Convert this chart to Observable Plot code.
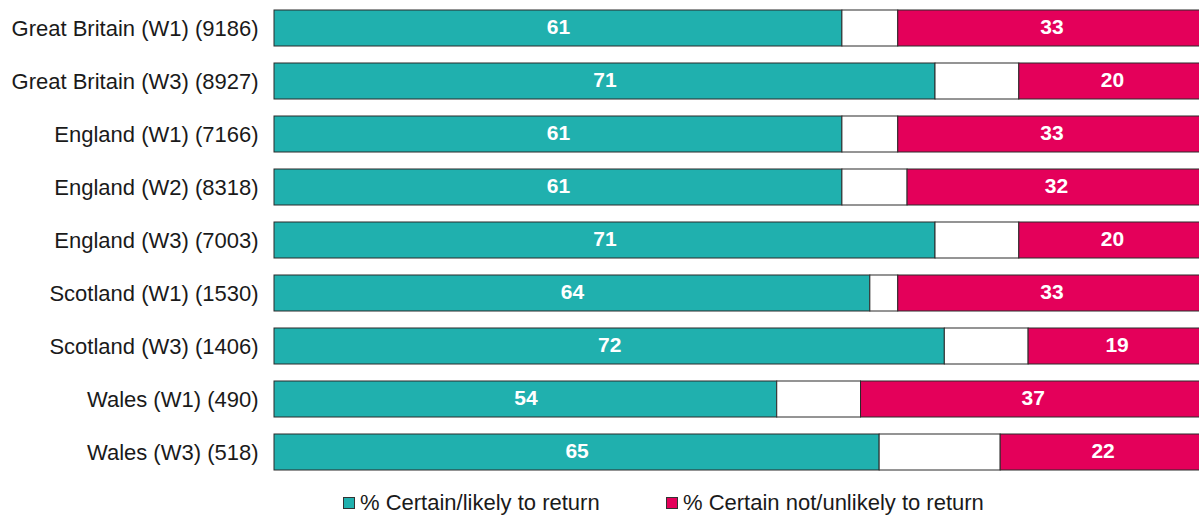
<!DOCTYPE html>
<html>
<head>
<meta charset="utf-8">
<script src="https://cdn.jsdelivr.net/npm/d3@7"></script>
<script src="https://cdn.jsdelivr.net/npm/@observablehq/plot@0.6"></script>
<style>
  html, body { margin: 0; padding: 0; background: #fff; overflow: hidden; width: 1199px; height: 515px; }
  #chart { position: relative; width: 1199px; overflow: hidden; }
  #chart svg { max-width: none !important; display: block; }
  .legend { position: relative; height: 35px; font-family: "Liberation Sans", Arial, sans-serif; font-size: 22px; line-height: 25px; color: #1a1a1a; }
  .legend .item { position: absolute; top: 10px; display: flex; align-items: center; }
  .legend .sw { width: 12px; height: 12px; border: 1px solid #333; box-sizing: border-box; margin-right: 5px; margin-top: 1px; }
</style>
</head>
<body>
<div id="chart"></div>
<script>
const categories = [
  "Great Britain (W1) (9186)",
  "Great Britain (W3) (8927)",
  "England (W1) (7166)",
  "England (W2) (8318)",
  "England (W3) (7003)",
  "Scotland (W1) (1530)",
  "Scotland (W3) (1406)",
  "Wales (W1) (490)",
  "Wales (W3) (518)"
];
const certainLikely = [61, 71, 61, 61, 71, 64, 72, 54, 65];
const certainNot = [33, 20, 33, 32, 20, 33, 19, 37, 22];
const seriesNames = ["% Certain/likely to return", "% Certain not/unlikely to return"];
const colors = ["#20B0AE", "#E4005A"];

const rows = [];
categories.forEach((c, i) => {
  const a = certainLikely[i], b = certainNot[i];
  rows.push({cat: c, x1: 0, x2: a, fill: colors[0], label: a});
  rows.push({cat: c, x1: a, x2: 100 - b, fill: "#ffffff", label: null});
  rows.push({cat: c, x1: 100 - b, x2: 100, fill: colors[1], label: b});
});

const plot = Plot.plot({
  width: 1205,
  height: 480,
  marginLeft: 274,
  marginRight: 0,
  marginTop: 0,
  marginBottom: 0,
  style: {fontFamily: "'Liberation Sans', Arial, sans-serif", background: "transparent", maxWidth: "none"},
  x: {domain: [0, 100], axis: null},
  y: {domain: categories, paddingInner: 0.328, paddingOuter: 0.14, label: null, axis: null},
  marks: [
    Plot.barX(rows, {x1: "x1", x2: "x2", y: "cat", fill: "fill", stroke: "#2a2a2a", strokeWidth: 1}),
    Plot.text(rows.filter(d => d.label != null), {
      x: d => (d.x1 + d.x2) / 2, y: "cat", text: d => String(d.label),
      fill: "white", fontWeight: "bold", fontSize: 21, dy: -1
    }),
    Plot.axisY({tickSize: 0, tickPadding: 16, fontSize: 22, label: null, fill: "#1a1a1a"})
  ]
});
document.getElementById("chart").appendChild(plot);

const legend = document.createElement("div");
legend.className = "legend";
const legendX = [343, 666];
seriesNames.forEach((name, i) => {
  const item = document.createElement("div");
  item.className = "item";
  item.style.left = legendX[i] + "px";
  const sw = document.createElement("div");
  sw.className = "sw";
  sw.style.background = colors[i];
  const t = document.createElement("span");
  t.textContent = name;
  item.appendChild(sw);
  item.appendChild(t);
  legend.appendChild(item);
});
document.getElementById("chart").appendChild(legend);
</script>
</body>
</html>
